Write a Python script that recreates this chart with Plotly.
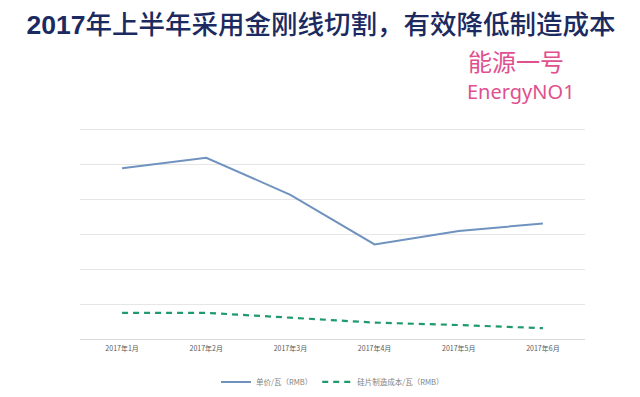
import plotly.graph_objects as go

months = ["2017年1月", "2017年2月", "2017年3月", "2017年4月", "2017年5月", "2017年6月"]
unit_price = [4.89, 5.19, 4.13, 2.71, 3.09, 3.31]
wafer_cost = [0.75, 0.75, 0.61, 0.47, 0.40, 0.31]
series_names = ["单价/瓦（RMB）", "硅片制造成本/瓦（RMB）"]
grid_vals = [0, 1, 2, 3, 4, 5, 6]

fig = go.Figure()
fig.add_trace(go.Scatter(
    x=months, y=unit_price, mode="lines", name=series_names[0],
    line=dict(color="#6f92bf", width=2),
))
fig.add_trace(go.Scatter(
    x=months, y=wafer_cost, mode="lines", name=series_names[1],
    line=dict(color="#1f9a6c", width=2.2, dash="6px,5px"),
))

W, H = 640, 397
unit_px = 35.0
y_top = 6.1
L, R, B = 80, 55, 58
T = H - B - y_top * unit_px
pw, ph = W - L - R, H - T - B

def px_x(x):
    return (x - L) / pw

def px_y(y):
    return (H - B - y) / ph

fig.update_layout(
    width=W, height=H,
    margin=dict(l=L, r=R, t=T, b=B, autoexpand=False),
    paper_bgcolor="white", plot_bgcolor="white",
    font=dict(family="Noto Sans CJK SC, sans-serif", color="#595959"),
    showlegend=True,
    legend=dict(
        orientation="h", x=0.5, xanchor="center",
        y=px_y(382), yanchor="middle",
        font=dict(size=7.5, color="#7f7f7f"),
        itemwidth=30,
    ),
    title=dict(
        text="<b>2017</b>年上半年采用金刚线切割，有效降低制造成本",
        xref="container", yref="container",
        x=321 / W, xanchor="center",
        y=1 - 25 / H, yanchor="middle",
        font=dict(family="Liberation Sans, Noto Sans CJK SC, sans-serif",
                  size=26.5, color="#1b2a60", weight=500),
    ),
    xaxis=dict(
        type="category", range=[-0.5, 5.5],
        showgrid=False, zeroline=False,
        showline=True, linecolor="#d9d9d9", linewidth=1,
        ticks="", ticklabelstandoff=3,
        tickfont=dict(size=7, color="#595959"),
        fixedrange=True,
    ),
    yaxis=dict(
        range=[0, y_top], tickvals=grid_vals, showticklabels=False,
        showgrid=True, gridcolor="#e6e6e6", gridwidth=1,
        zeroline=False, showline=False, fixedrange=True,
    ),
    annotations=[
        dict(text="能源一号", xref="paper", yref="paper",
             x=px_x(466), y=px_y(60), xanchor="left", yanchor="middle",
             showarrow=False,
             font=dict(family="Noto Sans CJK SC, sans-serif", size=24, color="#e0508e")),
        dict(text="EnergyNO1", xref="paper", yref="paper",
             x=px_x(465), y=px_y(91), xanchor="left", yanchor="middle",
             showarrow=False,
             font=dict(family="Noto Sans, sans-serif", size=20, color="#e0508e")),
    ],
)

fig.write_html("out.html", config={"displayModeBar": False},
               post_script="document.body.style.margin='0';")
